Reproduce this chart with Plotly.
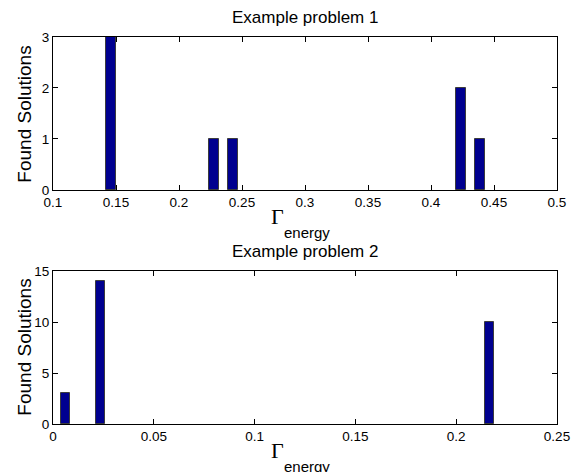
import plotly.graph_objects as go

# Data
p1_x = [0.146, 0.2275, 0.2427, 0.4238, 0.4389]
p1_counts = [3, 1, 1, 2, 1]
p2_x = [0.0062, 0.0235, 0.2164]
p2_counts = [3, 14, 10]

p1_xticks = [0.1, 0.15, 0.2, 0.25, 0.3, 0.35, 0.4, 0.45, 0.5]
p1_xticklabels = ["0.1", "0.15", "0.2", "0.25", "0.3", "0.35", "0.4", "0.45", "0.5"]
p1_yticks = [0, 1, 2, 3]
p2_xticks = [0, 0.05, 0.1, 0.15, 0.2, 0.25]
p2_xticklabels = ["0", "0.05", "0.1", "0.15", "0.2", "0.25"]
p2_yticks = [0, 5, 10, 15]

BAR = "#00008F"
EDGE = "rgb(60,60,60)"
SANS = "Liberation Sans, Arial, sans-serif"
SERIF = "Liberation Serif, Times New Roman, serif"

fig = go.Figure()
fig.add_trace(go.Bar(x=p1_x, y=p1_counts, width=[0.0078] * len(p1_x),
                     marker=dict(color=BAR, line=dict(color=EDGE, width=1)),
                     xaxis="x", yaxis="y", showlegend=False))
fig.add_trace(go.Bar(x=p2_x, y=p2_counts, width=[0.0046] * len(p2_x),
                     marker=dict(color=BAR, line=dict(color=EDGE, width=1)),
                     xaxis="x2", yaxis="y2", showlegend=False))

axis_common = dict(showline=True, linecolor="black", linewidth=1, mirror="ticks",
                   ticks="inside", ticklen=5, tickcolor="black", tickwidth=1,
                   showgrid=False, zeroline=False,
                   tickfont=dict(family=SANS, size=13.5, color="black"))

# The page body has an 8px default margin, so the figure is 8px smaller on each axis
fig.update_layout(
    width=574, height=464,
    margin=dict(l=45, r=19, t=29, b=48),
    paper_bgcolor="white", plot_bgcolor="white",
    bargap=0,
    xaxis=dict(domain=[0, 1], range=[0.1, 0.5], tickvals=p1_xticks, ticktext=p1_xticklabels,
               anchor="y", **axis_common),
    yaxis=dict(domain=[0.6047, 1.0], range=[0, 3], tickvals=p1_yticks, anchor="x", **axis_common),
    xaxis2=dict(domain=[0, 1], range=[0, 0.25], tickvals=p2_xticks, ticktext=p2_xticklabels,
                anchor="y2", **axis_common),
    yaxis2=dict(domain=[0, 0.3953], range=[0, 15], tickvals=p2_yticks, anchor="x2", **axis_common),
)

ann = []
for ty, label in [(1.051, "Example problem 1"), (0.447, "Example problem 2")]:
    ann.append(dict(x=0.5, y=ty, xref="paper", yref="paper", text=label, showarrow=False,
                    xanchor="center", yanchor="middle",
                    font=dict(family=SANS, size=17, color="black")))
for yc in [0.8, 0.198]:
    ann.append(dict(x=-0.057, y=yc, xref="paper", yref="paper", text="Found Solutions",
                    showarrow=False, textangle=-90, xanchor="center", yanchor="middle",
                    font=dict(family=SANS, size=19, color="black")))
for gy, ey in [(0.535, 0.496), (-0.068, -0.109)]:
    ann.append(dict(x=0.445, y=gy, xref="paper", yref="paper", text="Γ", showarrow=False,
                    xanchor="center", yanchor="middle",
                    font=dict(family=SERIF, size=22, color="black")))
    ann.append(dict(x=0.455, y=ey, xref="paper", yref="paper", text="energy", showarrow=False,
                    xanchor="left", yanchor="middle",
                    font=dict(family=SANS, size=15, color="black")))
fig.update_layout(annotations=ann)

fig.write_html("out.html")
